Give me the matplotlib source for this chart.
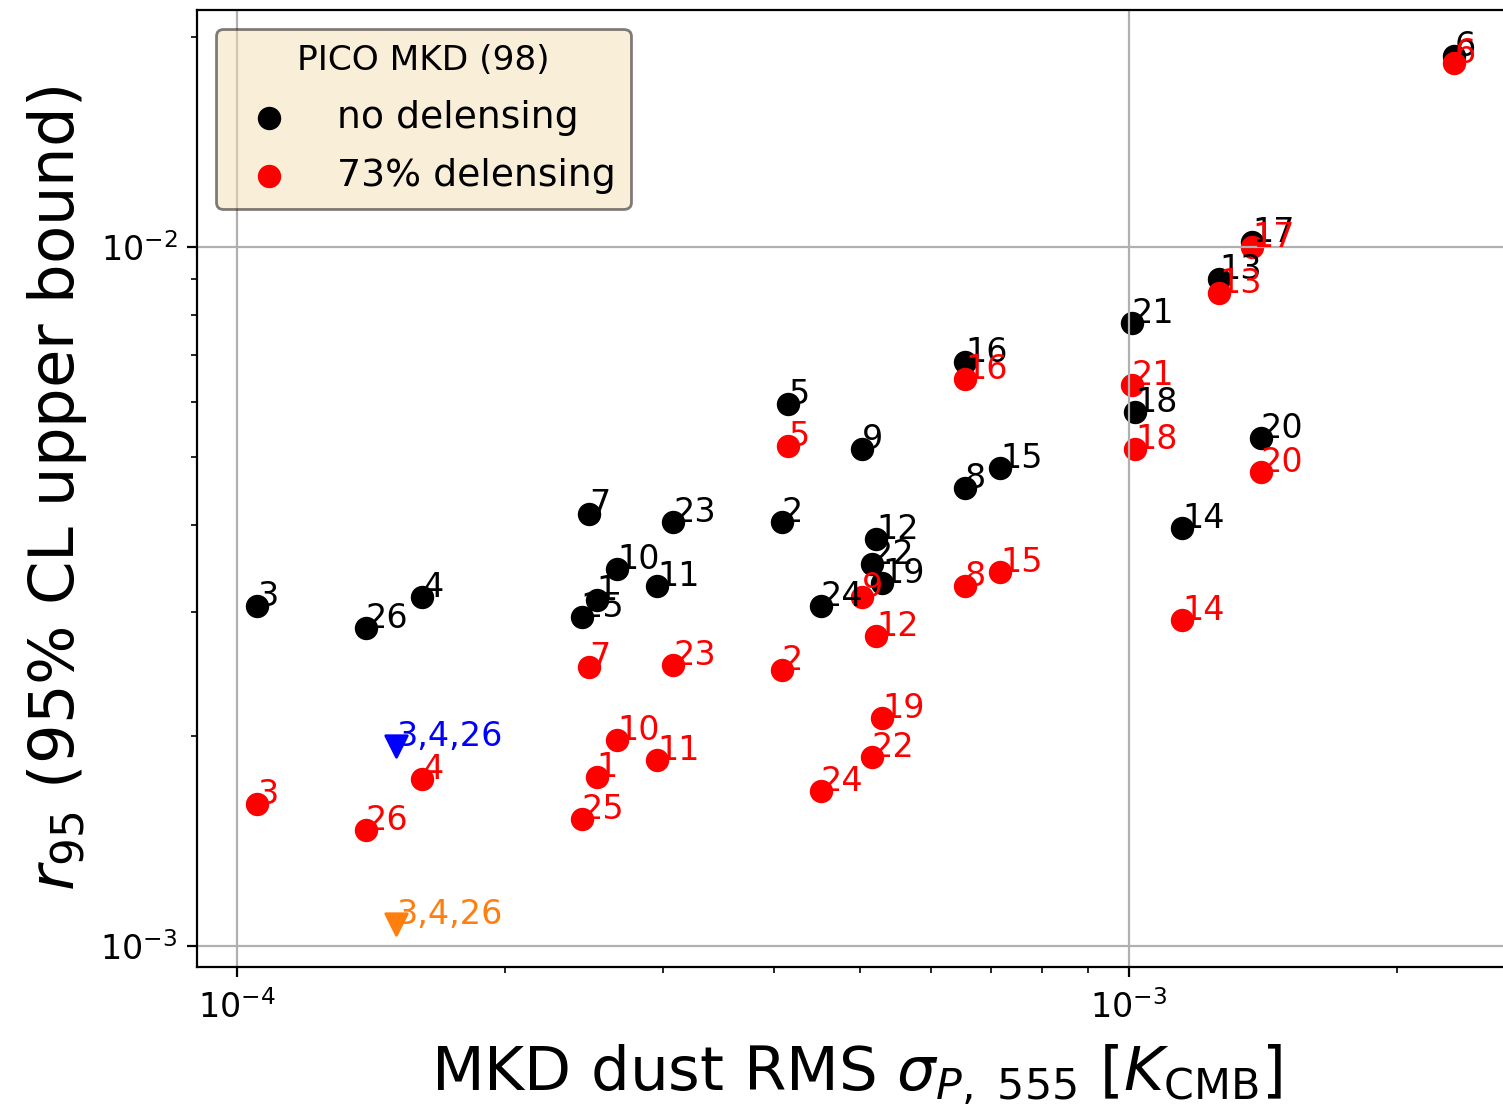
import numpy as np
import matplotlib
matplotlib.use("Agg")
import matplotlib.pyplot as plt

# MKD dust RMS and r95 per sky patch
labels = [str(i) for i in range(1, 27)]
sigma_p = [2.532e-4, 4.083e-4, 1.053e-4, 1.612e-4, 4.147e-4, 2.316e-3, 2.480e-4,
           6.549e-4, 5.021e-4, 2.667e-4, 2.958e-4, 5.205e-4, 1.262e-3, 1.147e-3,
           7.168e-4, 6.549e-4, 1.374e-3, 1.016e-3, 5.286e-4, 1.406e-3, 1.008e-3,
           5.150e-4, 3.083e-4, 4.516e-4, 2.436e-4, 1.395e-4]
r95_nodelens = [3.126e-3, 4.043e-3, 3.064e-3, 3.157e-3, 5.963e-3, 1.875e-2, 4.150e-3,
                4.520e-3, 5.141e-3, 3.461e-3, 3.273e-3, 3.821e-3, 9.00e-3, 3.963e-3,
                4.829e-3, 6.848e-3, 1.0166e-2, 5.807e-3, 3.306e-3, 5.330e-3, 7.786e-3,
                3.520e-3, 4.043e-3, 3.064e-3, 2.955e-3, 2.850e-3]
r95_delens = [1.745e-3, 2.482e-3, 1.597e-3, 1.734e-3, 5.191e-3, 1.833e-2, 2.507e-3,
              3.273e-3, 3.157e-3, 1.971e-3, 1.845e-3, 2.777e-3, 8.595e-3, 2.927e-3,
              3.428e-3, 6.475e-3, 1.000e-2, 5.141e-3, 2.119e-3, 4.766e-3, 6.348e-3,
              1.864e-3, 2.523e-3, 1.666e-3, 1.520e-3, 1.466e-3]

# combined patches 3,4,26
comb_label = "3,4,26"
comb_sigma = 1.508e-4
comb_r95_nodelens = 1.932e-3
comb_r95_delens = 1.075e-3

fig = plt.figure(figsize=(7.515, 5.535), dpi=200)
ax = fig.add_axes([0.1311, 0.1265, 0.8769, 0.8645])

ax.scatter(sigma_p, r95_nodelens, s=55, color="k", label="no delensing")
for lab, x, y in zip(labels, sigma_p, r95_nodelens):
    ax.text(x, y, lab, color="k", fontsize=12)

ax.scatter(sigma_p, r95_delens, s=55, color="r", label="73% delensing")
for lab, x, y in zip(labels, sigma_p, r95_delens):
    ax.text(x, y, lab, color="r", fontsize=12)

ax.scatter([comb_sigma], [comb_r95_nodelens], s=60, marker="v", color="b")
ax.text(comb_sigma, comb_r95_nodelens, comb_label, color="b", fontsize=12)
ax.scatter([comb_sigma], [comb_r95_delens], s=60, marker="v", color="C1")
ax.text(comb_sigma, comb_r95_delens, comb_label, color="C1", fontsize=12)

ax.set_xscale("log")
ax.set_yscale("log")
ax.set_xlim(9.02e-5, 2.71e-3)
ax.set_ylim(9.33e-4, 2.183e-2)
ax.grid(True)
ax.tick_params(labelsize=12)
ax.tick_params(axis="x", pad=5)

ax.set_xlabel(r"MKD dust RMS $\sigma_{P,\ 555}$ [$K_{\rm CMB}$]", fontsize=22,
              labelpad=6)
ax.set_ylabel(r"$r_{95}$ (95% CL upper bound)", fontsize=22.5)

leg = ax.legend(loc="upper left", title="PICO MKD (98)", fontsize=13.6,
                title_fontsize=12.4, facecolor="wheat", edgecolor="k",
                framealpha=0.5, labelspacing=0.6)

fig.savefig("out.png", dpi=200)
